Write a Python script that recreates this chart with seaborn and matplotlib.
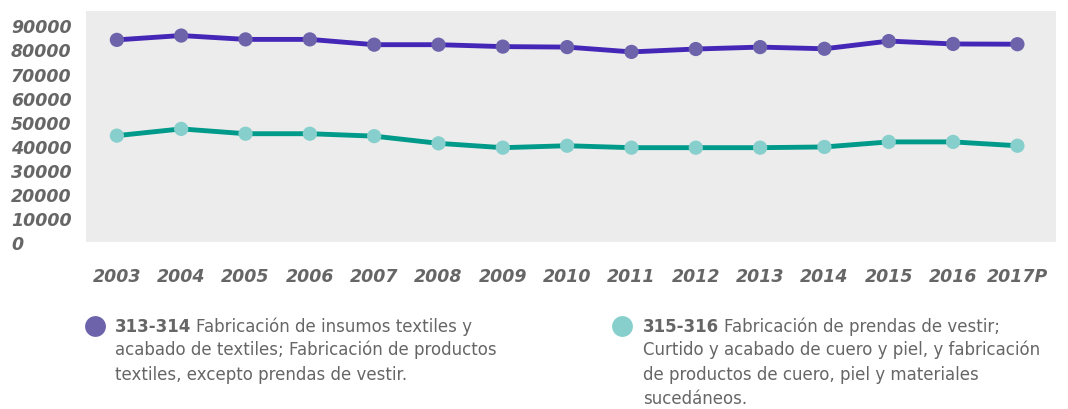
import numpy as np
import pandas as pd
import seaborn as sns
import matplotlib.pyplot as plt
from matplotlib.lines import Line2D

years = ["2003", "2004", "2005", "2006", "2007", "2008", "2009", "2010",
         "2011", "2012", "2013", "2014", "2015", "2016", "2017P"]
textiles = [84000, 85800, 84200, 84200, 82000, 82000, 81200, 81000,
            79000, 80200, 81000, 80300, 83500, 82300, 82200]
prendas = [44200, 47000, 45000, 45000, 44000, 41000, 39200, 40000,
           39200, 39200, 39200, 39500, 41600, 41600, 40000]
codes = ["313-314", "315-316"]
descs = ["Fabricación de insumos textiles y\nacabado de textiles; Fabricación de productos\ntextiles, excepto prendas de vestir.",
         "Fabricación de prendas de vestir;\nCurtido y acabado de cuero y piel, y fabricación\nde productos de cuero, piel y materiales\nsucedáneos."]
yticks = list(range(0, 90001, 10000))

line_cols = {"313-314": "#4527b8", "315-316": "#009a8a"}
dot_cols = {"313-314": "#6c63ab", "315-316": "#86cfcc"}
grey = "#666666"

df = pd.DataFrame({
    "year": years * 2,
    "x": list(range(len(years))) * 2,
    "value": textiles + prendas,
    "serie": [codes[0]] * len(years) + [codes[1]] * len(years),
})

sns.set_style("white")
plt.rcParams["font.family"] = ["DejaVu Sans"]

fig = plt.figure(figsize=(10.68, 4.10), dpi=100)
ax = fig.add_axes([86 / 1068, 1 - 243 / 410, (1056 - 86) / 1068, (243 - 12) / 410])
ax.set_facecolor("#ececec")

sns.lineplot(data=df, x="x", y="value", hue="serie", palette=line_cols,
             linewidth=3.5, legend=False, ax=ax, zorder=2)
sns.scatterplot(data=df, x="x", y="value", hue="serie", palette=dot_cols,
                s=105, edgecolor="none", legend=False, ax=ax, zorder=3)

ax.set_xlim(-0.48, len(years) - 1 + 0.6)
ax.set_ylim(0, 96000)
ax.set_xticks(range(len(years)))
ax.set_xticklabels(years)
ax.set_yticks(yticks)
ax.set_yticklabels([str(v) for v in yticks])
ax.tick_params(axis="both", length=0, colors=grey)
ax.tick_params(axis="x", pad=18)
ax.tick_params(axis="y", pad=54)
for lab in ax.get_xticklabels() + ax.get_yticklabels():
    lab.set_fontstyle("italic")
    lab.set_fontweight("bold")
    lab.set_fontsize(12.5)
    lab.set_color(grey)
for lab in ax.get_yticklabels():
    lab.set_horizontalalignment("left")
ax.set_xlabel("")
ax.set_ylabel("")
for s in ax.spines.values():
    s.set_visible(False)

# legend: dot + bold code + wrapped description
fig.canvas.draw()
renderer = fig.canvas.get_renderer()
legend_pos = [(95, 115), (622, 643)]
for (dx, tx), code, desc in zip(legend_pos, codes, descs):
    fig.add_artist(Line2D([dx / 1068], [1 - 327 / 410], marker="o", markersize=15,
                          color=dot_cols[code], markeredgewidth=0,
                          transform=fig.transFigure))
    t = fig.text(tx / 1068, 1 - 327 / 410, code, fontsize=12, fontweight="bold",
                 color=grey, va="center", ha="left")
    bb = t.get_window_extent(renderer)
    first, rest = desc.split("\n", 1)
    fig.text((bb.x1 + 5) / 1068, 1 - 327 / 410, first, fontsize=12,
             color=grey, va="center", ha="left")
    fig.text(tx / 1068, 1 - 341 / 410, rest, fontsize=12, color=grey,
             va="top", ha="left", linespacing=1.45)

fig.savefig("out.png", dpi=100)
